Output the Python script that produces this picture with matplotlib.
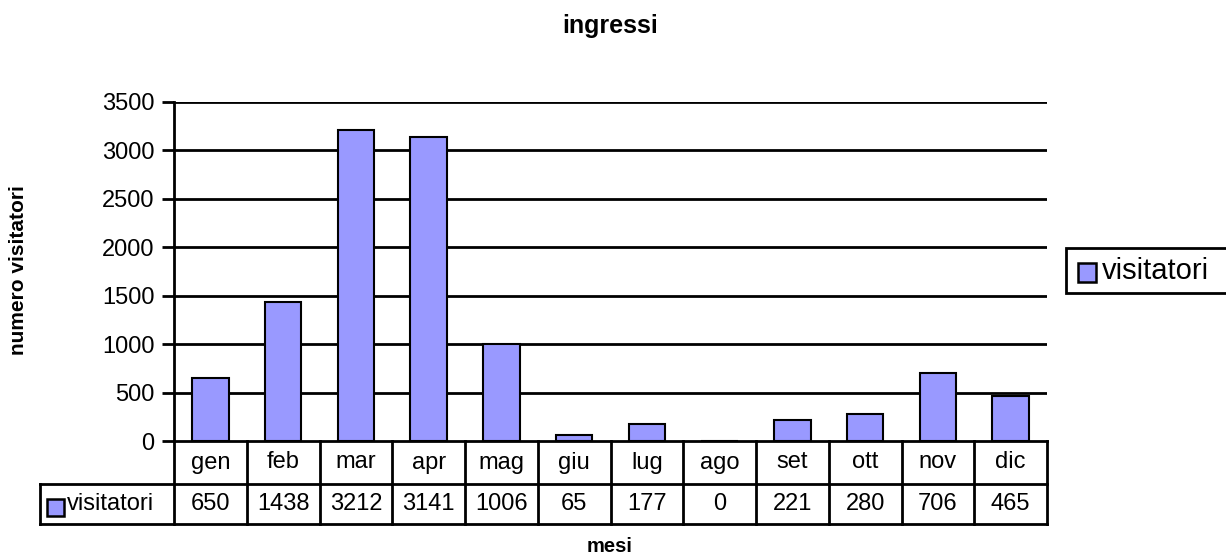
import matplotlib
matplotlib.use("Agg")
import matplotlib.pyplot as plt
from matplotlib.patches import Rectangle
from matplotlib.lines import Line2D

months = ["gen", "feb", "mar", "apr", "mag", "giu", "lug", "ago", "set", "ott", "nov", "dic"]
visitatori = [650, 1438, 3212, 3141, 1006, 65, 177, 0, 221, 280, 706, 465]
yticks = [0, 500, 1000, 1500, 2000, 2500, 3000, 3500]
series_name = "visitatori"

plt.rcParams['font.family'] = ['Liberation Sans', 'DejaVu Sans']
W, H = 1226, 554
fig = plt.figure(figsize=(W / 100, H / 100), dpi=100)
fig.patch.set_facecolor('white')
BAR = '#9999FF'
FS = 17

L, R, T, B = 174, 1047, 102, 441
ax = fig.add_axes([L / W, 1 - B / H, (R - L) / W, (B - T) / H])
n = len(months)
x = list(range(n))
ax.bar(x, visitatori, width=0.5, color=BAR, edgecolor='black', linewidth=1.5, zorder=3)
ax.set_xlim(-0.5, n - 0.5)
ax.set_ylim(0, 3500)
ax.set_yticks(yticks)
ax.set_yticklabels([str(v) for v in yticks], fontsize=FS)
for v in yticks[1:]:
    ax.axhline(v, color='black', linewidth=2, zorder=1)
ax.set_xticks([])
for s in ['top', 'right']:
    ax.spines[s].set_visible(False)
for s in ['left', 'bottom']:
    ax.spines[s].set_linewidth(2)
ax.tick_params(axis='y', length=9, width=2, direction='out', pad=5)

# data table below the axes (axes-fraction coordinates)
ph = B - T
pw = R - L
def fy(py):
    return (B - py) / ph
def fx(px):
    return (px - L) / pw

row1 = 484
row2 = 524
left_col = 40
tr = ax.transAxes
lw = 2
def seg(xs, ys):
    ax.add_line(Line2D(xs, ys, transform=tr, color='black', lw=lw, clip_on=False,
                       solid_capstyle='projecting'))
seg([0, 1], [fy(row1), fy(row1)])
seg([fx(left_col), 1], [fy(row2), fy(row2)])
seg([fx(left_col), 0], [fy(row1), fy(row1)])
seg([fx(left_col), fx(left_col)], [fy(row1), fy(row2)])
for i in range(n + 1):
    xf = i / n
    seg([xf, xf], [0, fy(row2)])
for i, (m, v) in enumerate(zip(months, visitatori)):
    xc = (i + 0.5) / n
    ax.text(xc, fy((B + row1) / 2), m, transform=tr, ha='center', va='center', fontsize=FS)
    ax.text(xc, fy((row1 + row2) / 2), str(v), transform=tr, ha='center', va='center', fontsize=FS)
# legend key in table
ax.add_patch(Rectangle((fx(47), fy(516)), 17 / pw, 17 / ph, transform=tr, facecolor=BAR,
                       edgecolor='black', lw=1.8, clip_on=False))
ax.text(fx(67), fy((row1 + row2) / 2), series_name, transform=tr, ha='left', va='center', fontsize=FS)

# legend box on right (figure pixel coords)
def fpx(px, py):
    return px / W, 1 - py / H
fig.add_artist(Rectangle(fpx(1066, 293), (1280 - 1066) / W, 45 / H, transform=fig.transFigure,
                         facecolor='white', edgecolor='black', lw=2))
fig.add_artist(Rectangle(fpx(1078, 282), 18 / W, 19 / H, transform=fig.transFigure,
                         facecolor=BAR, edgecolor='black', lw=1.8))
tx, ty = fpx(1102, 271)
fig.text(tx, ty, series_name, ha='left', va='center', fontsize=21)

tx, ty = fpx(610, 33)
fig.text(tx, ty, "ingressi", ha='center', va='baseline', fontsize=18, fontweight='bold')
tx, ty = fpx(19, 270)
fig.text(tx, ty, "numero visitatori", ha='center', va='center', rotation=90,
         fontsize=15, fontweight='bold')
tx, ty = fpx(610, 552)
fig.text(tx, ty, "mesi", ha='center', va='baseline', fontsize=14.5, fontweight='bold')

fig.savefig("out.png", dpi=100)
